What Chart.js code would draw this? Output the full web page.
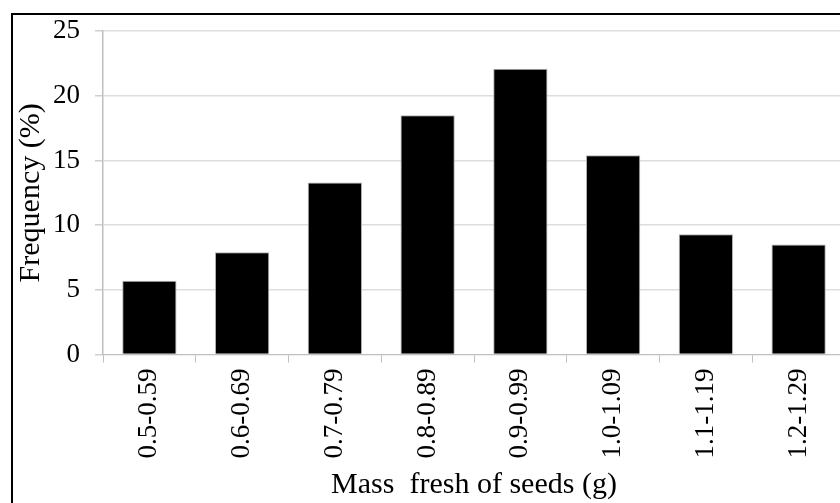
<!DOCTYPE html>
<html>
<head>
<meta charset="utf-8">
<script src="https://cdn.jsdelivr.net/npm/chart.js@4/dist/chart.umd.min.js"></script>
<style>
  html, body { margin: 0; padding: 0; width: 840px; height: 503px; overflow: hidden; background: #fff; }
  #frame { position: absolute; left: 11px; top: 13px; width: 900px; height: 600px; border-left: 2px solid #000; border-top: 2px solid #000; }
  #wrap { position: absolute; left: 0; top: 0; width: 860px; height: 503px; }
</style>
</head>
<body>
<div id="frame"></div>
<div id="wrap"><canvas id="c"></canvas></div>
<script>
const categories = ['0.5-0.59', '0.6-0.69', '0.7-0.79', '0.8-0.89', '0.9-0.99', '1.0-1.09', '1.1-1.19', '1.2-1.29'];
const frequency = [5.7, 7.9, 13.3, 18.5, 22.1, 15.4, 9.3, 8.5];
const yTicks = [0, 5, 10, 15, 20, 25];
const xTitle = 'Mass  fresh of seeds (g)';
const yTitle = 'Frequency (%)';

const serif = 'Liberation Serif';

new Chart(document.getElementById('c'), {
  type: 'bar',
  data: {
    labels: categories,
    datasets: [{
      data: frequency,
      backgroundColor: '#000000',
      borderColor: '#b0b0b0',
      borderWidth: 1,
      barPercentage: 0.585,
      categoryPercentage: 1.0
    }]
  },
  options: {
    responsive: true,
    maintainAspectRatio: false,
    animation: false,
    layout: { padding: { top: 29, right: 15, bottom: 0, left: 0 } },
    plugins: { legend: { display: false }, tooltip: { enabled: false } },
    scales: {
      x: {
        grid: { display: true, drawOnChartArea: false, drawTicks: true, tickLength: 8, color: '#bfbfbf', tickColor: '#bfbfbf', offset: true },
        border: { display: true, color: '#bfbfbf', width: 1 },
        ticks: { color: '#000', autoSkip: false, maxRotation: 90, minRotation: 90, padding: 6, font: { family: serif, size: 27 } },
        title: { display: true, text: xTitle, color: '#000', padding: { top: 0, bottom: 0 }, font: { family: serif, size: 30 } },
        afterFit: (s) => { s.height = 148.5; }
      },
      y: {
        min: 0, max: 25,
        afterBuildTicks: (s) => { s.ticks = yTicks.map(v => ({ value: v })); },
        grid: { color: '#dedede', tickColor: '#cfcfcf', tickLength: 8, lineWidth: 1.5 },
        border: { display: true, color: '#bfbfbf', width: 1.5 },
        ticks: { color: '#000', padding: 15, font: { family: serif, size: 27 } },
        title: { display: true, text: yTitle, color: '#000', padding: { top: 13, bottom: 0 }, font: { family: serif, size: 30 } },
        afterFit: (s) => { s.width = 103; }
      }
    }
  }
});
</script>
</body>
</html>
